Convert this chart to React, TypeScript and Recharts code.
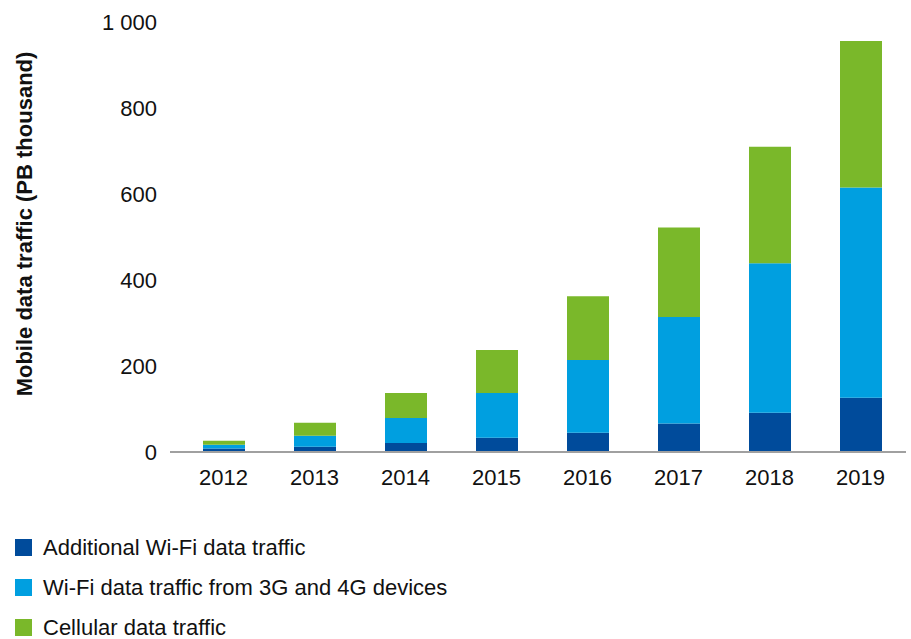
import React from 'react';
import { BarChart, Bar, XAxis, YAxis } from 'recharts';

// years on the x axis
const years = ['2012', '2013', '2014', '2015', '2016', '2017', '2018', '2019'];

// stacked series, PB thousand
const additionalWifi = [8, 12, 21, 33, 45, 66, 91, 126];
const wifi3g4g = [9, 26, 58, 104, 169, 248, 348, 489];
const cellular = [9, 30, 58, 100, 148, 208, 271, 341];

const yTicks = [0, 200, 400, 600, 800, 1000];

const seriesNames = [
  'Additional Wi-Fi data traffic',
  'Wi-Fi data traffic from 3G and 4G devices',
  'Cellular data traffic',
];
const seriesColors = ['#004b9b', '#009fe0', '#7ab82a'];

const chartData = years.map((year, i) => ({
  year,
  additional: additionalWifi[i],
  wifi: wifi3g4g[i],
  cellular: cellular[i],
}));

const FONT = '"Liberation Sans", Arial, sans-serif';

// y axis title, rotated
const YTitle = (props: any) => {
  const { viewBox } = props;
  const cx = 24;
  const cy = viewBox.y + viewBox.height / 2 - 13;
  return (
    <text
      x={cx}
      y={cy}
      transform={`rotate(-90, ${cx}, ${cy})`}
      textAnchor="middle"
      dominantBaseline="central"
      fontFamily={FONT}
      fontWeight="bold"
      fontSize={22}
      fill="#111"
    >
      Mobile data traffic (PB thousand)
    </text>
  );
};

const formatTick = (v: number) => (v >= 1000 ? '1 000' : String(v));

const App = () => {
  return (
    <div style={{ position: 'absolute', left: 0, top: 0, width: 911, height: 639, background: '#fff' }}>
      <BarChart
        width={911}
        height={500}
        data={chartData}
        margin={{ top: 22, right: 5, left: 0, bottom: 0 }}
      >
        <XAxis
          dataKey="year"
          height={48}
          padding={{ left: 8, right: 0 }}
          tickLine={false}
          tickMargin={11}
          axisLine={{ stroke: '#a0a0a0', strokeWidth: 2 }}
          tick={{ fill: '#111', fontSize: 22, fontFamily: FONT }}
        />
        <YAxis
          width={170}
          domain={[0, 1000]}
          ticks={yTicks}
          tickFormatter={formatTick}
          axisLine={false}
          tickLine={false}
          tickMargin={7}
          tick={{ fill: '#111', fontSize: 22, fontFamily: FONT }}
          label={<YTitle />}
        />
        <Bar dataKey="additional" stackId="a" fill={seriesColors[0]} barSize={42} isAnimationActive={false} />
        <Bar dataKey="wifi" stackId="a" fill={seriesColors[1]} barSize={42} isAnimationActive={false} />
        <Bar dataKey="cellular" stackId="a" fill={seriesColors[2]} barSize={42} isAnimationActive={false} />
      </BarChart>
      {seriesNames.map((name, i) => (
        <div
          key={name}
          style={{
            position: 'absolute',
            left: 15,
            top: 539 + i * 40,
            height: 17,
            display: 'flex',
            alignItems: 'center',
            fontFamily: FONT,
            fontSize: 22,
            color: '#111',
            whiteSpace: 'nowrap',
          }}
        >
          <span style={{ display: 'inline-block', width: 17, height: 17, background: seriesColors[i], marginRight: 11 }} />
          <span>{name}</span>
        </div>
      ))}
    </div>
  );
};

export default App;
